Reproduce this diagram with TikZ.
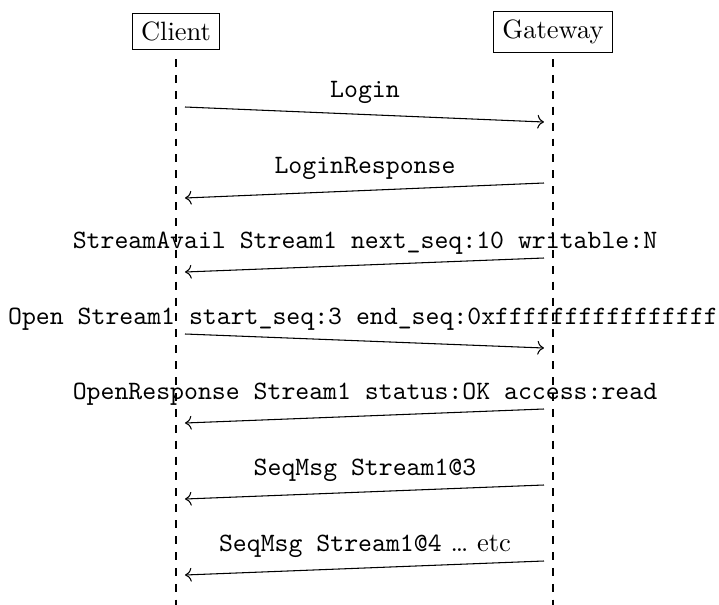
\documentclass[tikz,border=0pt]{standalone}
\usetikzlibrary{arrows.meta}
\begin{document}
\begin{tikzpicture}[x=0.013263cm, y=-0.013263cm,
  actor/.style={draw, inner sep=3.33pt},
  lifeline/.style={dashed},
  msg/.style={->},
  msglabel/.style={inner sep=0pt, font=\ttfamily}]
\useasboundingbox (0,0) rectangle (719,605);

% participants
\node[actor] (client) at (176,31.5) {Client};
\node[actor] (gateway) at (553,32) {Gateway};

% lifelines
\coordinate (ctop) at (176,59);
\coordinate (cbot) at (176,605);
\coordinate (gtop) at (553,59);
\coordinate (gbot) at (553,605);
\draw[lifeline] (ctop) -- (cbot);
\draw[lifeline] (gtop) -- (gbot);

% message end points: client side (c) and gateway side (g)
\foreach \i/\ya/\yb in {0/107/122, 1/198/183, 2/272/258, 3/334/348, 4/423/409, 5/499/485, 6/575/561} {
  \coordinate (c\i) at (185,\ya);
  \coordinate (g\i) at (544,\yb);
}

% messages
\draw[msg] (c0) -- (g0);
\draw[msg] (g1) -- (c1);
\draw[msg] (g2) -- (c2);
\draw[msg] (c3) -- (g3);
\draw[msg] (g4) -- (c4);
\draw[msg] (g5) -- (c5);
\draw[msg] (g6) -- (c6);

% message labels
\node[msglabel] (l0) at (365,92) {Login};
\node[msglabel] (l1) at (365,168) {LoginResponse};
\node[msglabel] (l2) at (365,243) {StreamAvail Stream1 next\_seq:10 writable:N};
\node[msglabel] (l3) at (363,319) {Open Stream1 start\_seq:3 end\_seq:0xffffffffffffffff};
\node[msglabel] (l4) at (365,394) {OpenResponse Stream1 status:OK access:read};
\node[msglabel] (l5) at (365,470) {SeqMsg Stream1@3};
\node[inner sep=0pt] (l6) at (365,546) {\texttt{SeqMsg Stream1@4} \ldots{} etc};
\end{tikzpicture}
\end{document}
